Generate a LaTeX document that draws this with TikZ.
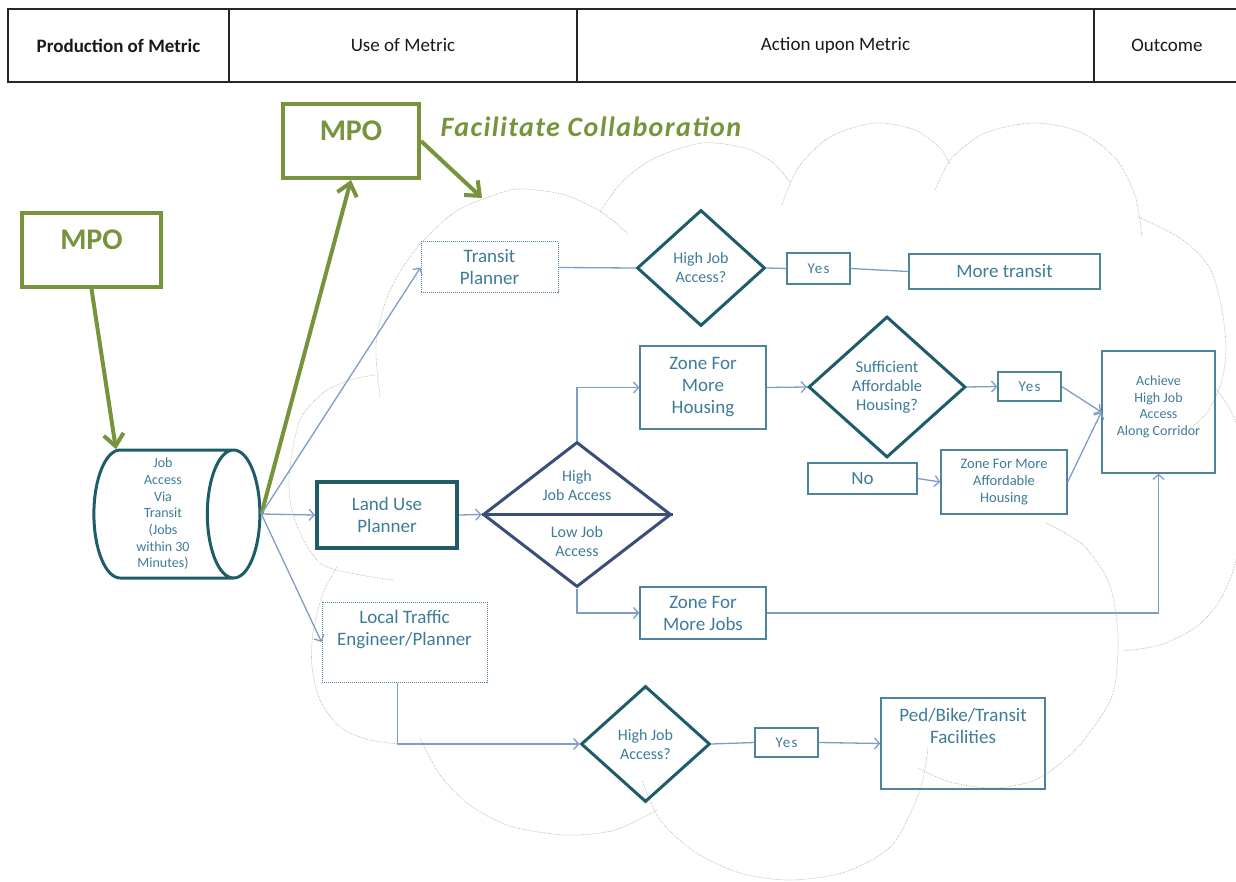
\documentclass[tikz,border=0pt]{standalone}
\usepackage{fontspec}
\setmainfont{Carlito}
\usetikzlibrary{shapes.geometric,arrows.meta}

\definecolor{mpogreen}{HTML}{77933C}
\definecolor{diamteal}{HTML}{1F5C6A}
\definecolor{ludiamcol}{HTML}{3B4E7A}
\definecolor{boxline}{HTML}{4E8499}
\definecolor{textcol}{HTML}{3D7B96}
\definecolor{conncol}{HTML}{7F9CC8}
\definecolor{cloudcol}{HTML}{B4B4A6}

\tikzset{
  cell/.style={draw=black!85, line width=1.2pt, minimum height=73pt, inner sep=0pt, text=black!90, font=\fontsize{19}{22}\selectfont},
  mpobox/.style={draw=mpogreen, line width=4pt, minimum width=136pt, minimum height=74pt, inner sep=0pt, text=mpogreen, font=\fontsize{30}{34}\selectfont\bfseries, text depth=20pt},
  mpoarrow/.style={draw=mpogreen, line width=4pt, -{Straight Barb[length=12pt,width=20pt]}},
  plainbox/.style={draw=boxline, line width=1.3pt, inner sep=0pt, align=center, text=textcol, font=\fontsize{19}{22}\selectfont},
  dotbox/.style={plainbox, line width=1pt, densely dotted},
  smallbox/.style={plainbox, font=\fontsize{14.5}{17}\selectfont},
  yesbox/.style={plainbox, minimum width=63pt, font=\fontsize{15}{17}\selectfont\addfontfeature{LetterSpace=8}},
  decision/.style={diamond, draw=diamteal, line width=3pt, inner sep=0pt, align=center, text=textcol, font=\fontsize{16}{19}\selectfont},
  conn/.style={draw=conncol, line width=1.3pt},
  connarrow/.style={conn, -{Straight Barb[length=5pt,width=11pt]}},
  cloudline/.style={draw=cloudcol, line width=0.7pt, densely dotted},
}

\begin{document}
\begin{tikzpicture}[x=1pt, y=-1pt]
\useasboundingbox (0,0) rectangle (1236,882);

% header row
\node[cell, minimum width=221pt, font=\fontsize{19}{22}\selectfont\bfseries] (hprod) at (118.5,45.5) {Production of Metric};
\node[cell, minimum width=348pt] (huse) at (403,45.5) {Use of Metric};
\node[cell, minimum width=517pt] (hact) at (835.5,45.5) {Action upon Metric};
\node[cell, minimum width=146pt] (hout) at (1167,45.5) {Outcome};

% collaboration cloud
\draw[cloudline] plot[smooth] coordinates {(380,397) (376,345) (388,295) (415,250) (455,212) (500,193) (524,189) (565,195) (603,213) (629,235)};
\draw[cloudline] plot[smooth] coordinates {(600,212) (622,182) (655,158) (702,143) (745,148) (772,162) (790,182)};
\draw[cloudline] plot[smooth] coordinates {(782,205) (798,168) (830,137) (875,123) (915,130) (940,148) (950,165)};
\draw[cloudline] plot[smooth] coordinates {(935,190) (952,158) (985,133) (1034,123) (1080,132) (1115,158) (1135,195) (1142,237)};
\draw[cloudline] plot[smooth] coordinates {(1138,217) (1180,238) (1208,265) (1220,300) (1226,345) (1222,380) (1209,410) (1193,426)};
\draw[cloudline] plot[smooth] coordinates {(1216,389) (1236,423) (1244,490) (1236,560) (1220,600) (1196,627) (1160,645) (1123,651)};
\draw[cloudline] plot[smooth] coordinates {(1046,523) (1083,545) (1109,583) (1118,635) (1114,690) (1096,724) (1070,755) (1035,780) (994,788) (950,782) (918,768)};
\draw[cloudline] plot[smooth] coordinates {(928,747) (920,790) (892,845) (845,872) (790,880) (740,873) (695,852) (660,820) (642,780)};
\draw[cloudline] plot[smooth] coordinates {(657,810) (615,830) (566,835) (510,826) (470,805) (440,775) (420,738)};
\draw[cloudline] plot[smooth] coordinates {(410,745) (370,740) (340,727) (320,700) (312,667) (313,633) (323,593) (337,567)};
\draw[cloudline] plot[smooth] coordinates {(393,580) (350,573) (320,563) (300,533) (290,500) (290,467) (300,420) (323,393) (350,380) (375,375)};
\coordinate (cloudtip) at (482,198);

% metric producers
\node[mpobox, minimum width=139pt] (mpoa) at (91.5,250) {MPO};
\node[mpobox] (mpob) at (351,141) {MPO};
\node[anchor=west, text=mpogreen, font=\fontsize{28}{32}\selectfont\bfseries\itshape\addfontfeature{LetterSpace=5}] (collab) at (437,127) {Facilitate Collaboration};
\node[cylinder, draw=diamteal, line width=3pt, shape aspect=0.47, minimum width=128pt, minimum height=166pt, inner sep=0pt, align=center, text=textcol, font=\fontsize{14}{16.7}\selectfont] (jobacc) at (163,514)
  {Job\\Access\\Via\\Transit\\(Jobs\\within 30\\Minutes)};

% users of the metric
\node[dotbox, minimum width=137pt, minimum height=51pt] (transit) at (489.5,267.5) {Transit\\Planner};
\node[plainbox, draw=diamteal, line width=4pt, minimum width=140pt, minimum height=66pt] (landuse) at (387,515) {Land Use\\Planner};
\node[dotbox, minimum width=165pt, minimum height=80pt, text depth=29pt] (traffic) at (404.5,642) {Local Traffic\\Engineer/Planner};

% transit planner row
\node[decision, minimum width=128pt, minimum height=116pt] (hjaa) at (701,268) {High Job\\Access?};
\node[yesbox, minimum height=31pt] (yesa) at (818.5,268.5) {Yes};
\node[plainbox, minimum width=191pt, minimum height=35pt] (moretransit) at (1004.5,271.5) {More transit};

% land use row
\node[diamond, draw=ludiamcol, line width=3pt, minimum width=188pt, minimum height=145pt, inner sep=0pt,
  label={[text=textcol, align=center, font=\fontsize{16}{19}\selectfont, yshift=29pt]center:High\\Job Access},
  label={[text=textcol, align=center, font=\fontsize{16}{19}\selectfont, yshift=-27pt]center:Low Job\\Access}] (ludec) at (577,514.5) {};
\node[plainbox, minimum width=126pt, minimum height=83pt] (housing) at (703,387.5) {Zone For\\More\\Housing};
\node[plainbox, minimum width=126pt, minimum height=52pt] (jobs) at (703,613) {Zone For\\More Jobs};
\node[decision, minimum width=157pt, minimum height=141pt, font=\fontsize{16.5}{19}\selectfont] (suff) at (887,387) {Sufficient\\Affordable\\Housing?};
\node[yesbox, minimum height=29pt] (yesb) at (1029.5,386.5) {Yes};
\node[plainbox, minimum width=109pt, minimum height=31pt] (no) at (862.5,478.5) {No};
\node[smallbox, minimum width=126pt, minimum height=64pt] (afford) at (1004,482) {Zone For More\\Affordable\\Housing};
\node[smallbox, font=\fontsize{14}{16.5}\selectfont, minimum width=113pt, minimum height=122pt, text depth=12.5pt] (achieve) at (1158.5,412) {Achieve\\High Job\\Access\\Along Corridor};

% traffic row
\node[decision, minimum width=129pt, minimum height=116pt] (hjac) at (645.5,744) {High Job\\Access?};
\node[yesbox, minimum height=29pt] (yesc) at (786.5,742.5) {Yes};
\node[plainbox, minimum width=164pt, minimum height=91pt, text depth=36pt] (ped) at (963,743.5) {Ped/Bike/Transit\\Facilities};

% green arrows
\draw[mpoarrow] (mpoa.south) -- (jobacc.126);
\draw[mpoarrow] (jobacc.east) -- (mpob.south);
\draw[mpoarrow] (mpob.east) -- (cloudtip);

% connectors
\draw[connarrow] (jobacc.east) -- (transit.west);
\draw[connarrow] (jobacc.east) -- (landuse.west);
\draw[connarrow] (jobacc.east) -- (traffic.west);
\draw[conn] (transit.east) -- (hjaa.west);
\draw[conn] (hjaa.east) -- (yesa.west);
\draw[conn] (yesa.east) -- (moretransit.west);
\draw[connarrow] (landuse.east) -- (ludec.west);
\draw[draw=ludiamcol, line width=3pt] (ludec.west) -- (ludec.east);
\draw[connarrow] (ludec.north) |- (housing.west);
\draw[connarrow] (ludec.south) |- (jobs.west);
\draw[connarrow] (housing.east) -- (suff.west);
\draw[connarrow] (suff.east) -- (yesb.west);
\draw[connarrow] (no.east) -- (afford.west);
\draw[connarrow] (yesb.east) -- (achieve.west);
\draw[connarrow] (afford.east) -- (achieve.west);
\draw[connarrow] (jobs.east) -| (achieve.south);
\draw[connarrow] ([xshift=-7pt]traffic.south) |- (hjac.west);
\draw[conn] (hjac.east) -- (yesc.west);
\draw[connarrow] (yesc.east) -- (ped.west);
\end{tikzpicture}
\end{document}
